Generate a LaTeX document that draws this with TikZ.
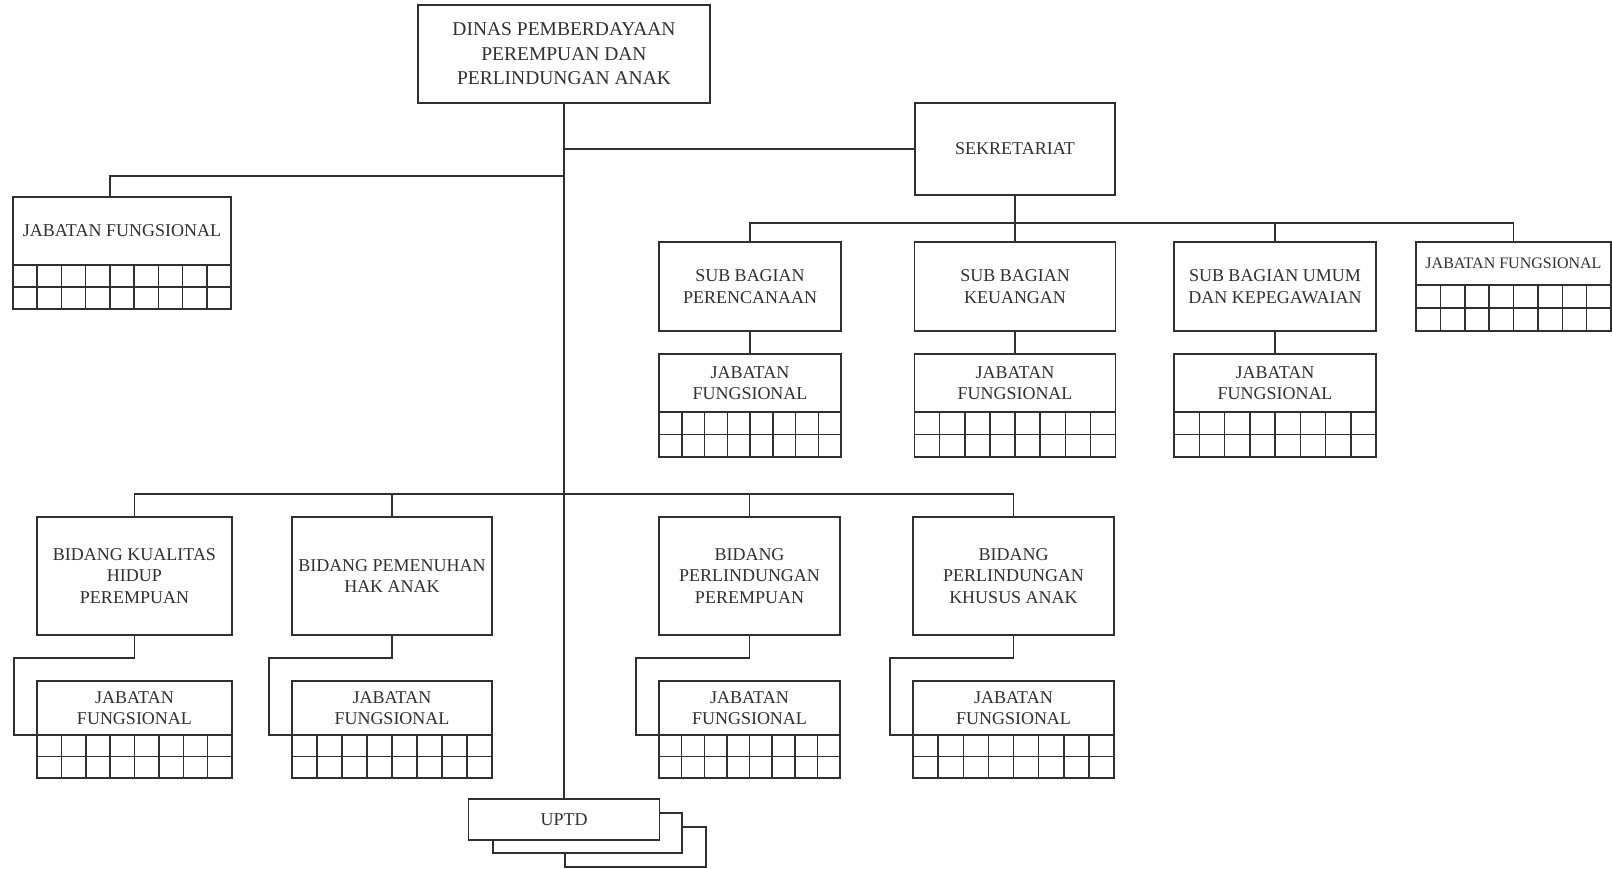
\documentclass[tikz,border=0pt]{standalone}
\usepackage{fontspec}
\setmainfont{Liberation Serif}
\usetikzlibrary{calc}
\definecolor{ink}{HTML}{303030}
\tikzset{
  box/.style={draw=ink, line width=1.5pt, rectangle, inner sep=0pt, outer sep=0pt,
    align=center, text=ink, fill=white, font=\fontsize{18}{21.6}\selectfont, anchor=center},
  gridline/.style={draw=ink, line width=1.5pt},
  conn/.style={draw=ink, line width=1.5pt}
}
% #1 node name, #2 number of columns, #3 columns-1, #4 row height
\newcommand{\jfgrid}[4]{%
  \draw[gridline] (#1.south west) rectangle ($(#1.south east)+(0,2*#4)$);
  \draw[gridline] ($(#1.south west)+(0,#4)$) -- ($(#1.south east)+(0,#4)$);
  \foreach \i in {1,...,#3}{%
    \draw[gridline] ($(#1.south west)!\i/#2!(#1.south east)$) -- ++(0,2*#4);
  }%
}
\begin{document}
\begin{tikzpicture}[x=1pt,y=-1pt]
\useasboundingbox (0,0) rectangle (1612,868);

% top
\node[box, minimum width=292pt, minimum height=98pt, font=\fontsize{19.5}{24.5}\selectfont] (top) at (564,54)
  {DINAS PEMBERDAYAAN\\PEREMPUAN DAN\\PERLINDUNGAN ANAK};
\node[box, minimum width=200pt, minimum height=92pt] (sek) at (1015,149) {SEKRETARIAT};

% left jabatan fungsional
\node[box, minimum width=218pt, minimum height=68pt] (ljf) at (122,231) {JABATAN FUNGSIONAL};
\jfgrid{ljf}{9}{8}{22}

% sub bagian
\node[box, minimum width=182pt, minimum height=89pt] (sb1) at (750,286.5) {SUB BAGIAN\\PERENCANAAN};
\node[box, minimum width=201pt, minimum height=89pt] (sb2) at (1015,286.5) {SUB BAGIAN\\KEUANGAN};
\node[box, minimum width=202pt, minimum height=89pt] (sb3) at (1275,286.5) {SUB BAGIAN UMUM\\DAN KEPEGAWAIAN};
\node[box, minimum width=195pt, minimum height=43pt, font=\fontsize{16}{19}\selectfont] (rjf) at (1513.5,263.5) {JABATAN FUNGSIONAL};
\jfgrid{rjf}{8}{7}{23}

\node[box, minimum width=182pt, minimum height=58pt] (sj1) at (750,383) {JABATAN\\FUNGSIONAL};
\node[box, minimum width=201pt, minimum height=58pt] (sj2) at (1015,383) {JABATAN\\FUNGSIONAL};
\node[box, minimum width=202pt, minimum height=58pt] (sj3) at (1275,383) {JABATAN\\FUNGSIONAL};
\jfgrid{sj1}{8}{7}{22.5}
\jfgrid{sj2}{8}{7}{22.5}
\jfgrid{sj3}{8}{7}{22.5}

% bidang
\node[box, minimum width=195pt, minimum height=118pt] (b1) at (134.5,576) {BIDANG KUALITAS\\HIDUP\\PEREMPUAN};
\node[box, minimum width=200pt, minimum height=118pt] (b2) at (392,576) {BIDANG PEMENUHAN\\HAK ANAK};
\node[box, minimum width=181pt, minimum height=118pt] (b3) at (749.5,576) {BIDANG\\PERLINDUNGAN\\PEREMPUAN};
\node[box, minimum width=201pt, minimum height=118pt] (b4) at (1013.5,576) {BIDANG\\PERLINDUNGAN\\KHUSUS ANAK};

\node[box, minimum width=195pt, minimum height=54pt] (bj1) at (134.5,708) {JABATAN\\FUNGSIONAL};
\node[box, minimum width=200pt, minimum height=54pt] (bj2) at (392,708) {JABATAN\\FUNGSIONAL};
\node[box, minimum width=181pt, minimum height=54pt] (bj3) at (749.5,708) {JABATAN\\FUNGSIONAL};
\node[box, minimum width=201pt, minimum height=54pt] (bj4) at (1013.5,708) {JABATAN\\FUNGSIONAL};
\foreach \k in {1,...,4}{\jfgrid{bj\k}{8}{7}{21.5}}

% UPTD stack
\node[box, minimum width=141pt, minimum height=40pt] (uptd3) at (635.5,847) {};
\node[box, minimum width=189pt, minimum height=40pt] (uptd2) at (587.5,833) {};
\node[box, minimum width=191pt, minimum height=41pt] (uptd) at (564,819.5) {UPTD};

% connectors
\draw[conn] (top.south) -- (uptd.north);
\draw[conn] (sek.west) -- (top.south |- sek.west);
\draw[conn] (top.south |- 0,176) -| ([xshift=-12pt]ljf.north);
\draw[conn] (sek.south) -- ++(0,28) coordinate (sbus);
\draw[conn] (sb1.north) |- (sbus) -| (rjf.north);
\draw[conn] (sb2.north) -- (sbus);
\draw[conn] (sb3.north) -- (sb3.north |- sbus);
\foreach \k in {1,2,3}{\draw[conn] (sb\k.south) -- (sj\k.north);}

\coordinate (bbus) at (564,494);
\draw[conn] (b1.north) |- (bbus) -| (b4.north);
\draw[conn] (b2.north) -- (b2.north |- bbus);
\draw[conn] (b3.north) -- (b3.north |- bbus);
\foreach \k in {1,...,4}{%
  \draw[conn] (b\k.south) -- ++(0,23) -| ([xshift=-23pt]bj\k.south west) -- (bj\k.south west);
}
\end{tikzpicture}
\end{document}
